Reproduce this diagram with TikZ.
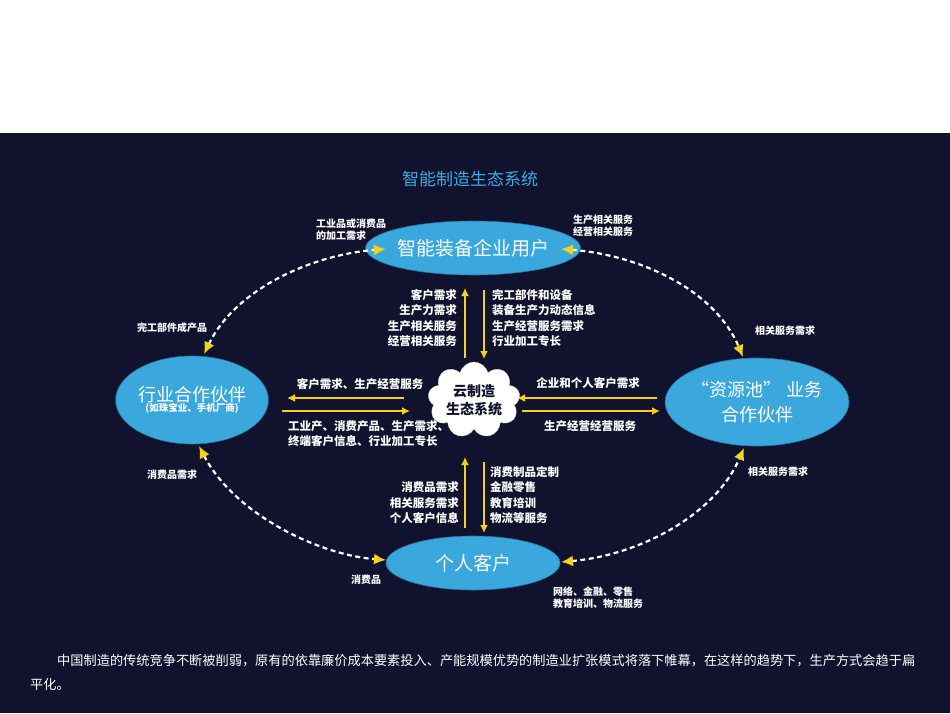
\documentclass[tikz,border=0pt]{standalone}
\usepackage{fontspec}
\setmainfont{Noto Sans CJK SC}
\usetikzlibrary{shapes.geometric,shapes.symbols,arrows.meta}
\definecolor{panel}{HTML}{10122E}
\definecolor{ell}{HTML}{3AA7DD}
\definecolor{arr}{HTML}{F2D21A}
\definecolor{ttl}{HTML}{3FA9E0}
\tikzset{
  ov/.style={ellipse,fill=ell,draw=ell!70!black,line width=0.6pt,text=white,align=center,inner sep=0pt},
  lbl/.style={text=white,font=\fontsize{10}{12}\selectfont\bfseries,inner sep=0pt},
  dsh/.style={draw=white,line width=2.2pt,dash pattern=on 5pt off 3.5pt,{Latex[length=12pt,width=11pt,fill=arr,color=arr]}-{Latex[length=12pt,width=11pt,fill=arr,color=arr]}},
  ya/.style={draw=arr,line width=2pt,-{Latex[length=8pt,width=8pt]}}
}
\begin{document}
\begin{tikzpicture}[x=1pt,y=-1pt]
\useasboundingbox (0,0) rectangle (950,713);
\fill[white] (0,0) rectangle (950,713);
\fill[panel] (0,133) rectangle (950,713);
\node[text=ttl,font=\fontsize{17}{20}\selectfont] (title) at (470,179) {智能制造生态系统};
% ellipses
\node[ov,minimum width=174,minimum height=54,font=\fontsize{19}{20}\selectfont] (top) at (473,248) {智能装备企业用户};
\node[ov,minimum width=144,minimum height=88] (left) at (192,400) {{\fontsize{18}{23}\selectfont 行业合作伙伴}\\[-2pt]{\fontsize{9.5}{11}\selectfont\bfseries (如珠宝业、手机厂商)}};
\node[ov,minimum width=144,minimum height=88,font=\fontsize{18}{25}\selectfont] (right) at (757,402) {“资源池” 业务\\合作伙伴};
\node[ov,minimum width=174,minimum height=54,font=\fontsize{19}{20}\selectfont] (bot) at (473,563) {个人客户};
\node[cloud,cloud puffs=9,aspect=1.35,fill=white,draw=white!80!black,minimum width=92,minimum height=70,align=center,font=\fontsize{14}{18}\selectfont\bfseries,text=panel,inner sep=0pt] (cloud) at (474,400) {云制造\\生态系统};
% dashed arcs
\coordinate (tl) at (386,249); \coordinate (lt) at (204,354);
\coordinate (tr) at (561,249); \coordinate (rt) at (743,357);
\coordinate (lb) at (199,446); \coordinate (bl) at (386,560);
\coordinate (rb) at (744,448); \coordinate (br) at (561,562);
\draw[dsh] (lt) .. controls (235,290) and (310,255) .. (tl);
\draw[dsh] (tr) .. controls (640,255) and (715,290) .. (rt);
\draw[dsh] (lb) .. controls (235,515) and (320,555) .. (bl);
\draw[dsh] (br) .. controls (640,555) and (715,515) .. (rb);
% vertical arrows
\coordinate (u1a) at (465,358); \coordinate (u1b) at (465,288);
\coordinate (d1a) at (484,290); \coordinate (d1b) at (484,359);
\coordinate (u2a) at (465,528); \coordinate (u2b) at (465,457);
\coordinate (d2a) at (484,462); \coordinate (d2b) at (484,533);
\draw[ya] (u1a) -- (u1b); \draw[ya] (d1a) -- (d1b);
\draw[ya] (u2a) -- (u2b); \draw[ya] (d2a) -- (d2b);
% horizontal arrows
\coordinate (h1a) at (404,398); \coordinate (h1b) at (287,398);
\coordinate (h2a) at (282,411); \coordinate (h2b) at (410,411);
\coordinate (h3a) at (657,398); \coordinate (h3b) at (517,398);
\coordinate (h4a) at (522,411); \coordinate (h4b) at (660,411);
\draw[ya] (h1a) -- (h1b); \draw[ya] (h2a) -- (h2b);
\draw[ya] (h3a) -- (h3b); \draw[ya] (h4a) -- (h4b);
% labels
\node[lbl,align=left,anchor=west] (l1) at (316,230) {工业品或消费品\\的加工需求};
\node[lbl,align=left,anchor=west] (l2) at (573,226) {生产相关服务\\经营相关服务};
\node[lbl,align=right,anchor=east,font=\fontsize{11.5}{15.5}\selectfont\bfseries] (l3) at (457,318) {客户需求\\生产力需求\\生产相关服务\\经营相关服务};
\node[lbl,align=left,anchor=west,font=\fontsize{11.5}{15.5}\selectfont\bfseries] (l4) at (492,318) {完工部件和设备\\装备生产力动态信息\\生产经营服务需求\\行业加工专长};
\node[lbl] (l5) at (172,328) {完工部件成产品};
\node[lbl] (l6) at (785,331) {相关服务需求};
\node[lbl] (l7) at (778,472) {相关服务需求};
\node[lbl] (l8) at (172,475) {消费品需求};
\node[lbl,font=\fontsize{11.5}{13}\selectfont\bfseries] (l9) at (360,384) {客户需求、生产经营服务};
\node[lbl,align=left,anchor=west,font=\fontsize{11.5}{15}\selectfont\bfseries] (l10) at (288,434) {工业产、消费产品、生产需求、\\终端客户信息、行业加工专长};
\node[lbl,font=\fontsize{11.5}{13}\selectfont\bfseries] (l11) at (588,383) {企业和个人客户需求};
\node[lbl,font=\fontsize{11.5}{13}\selectfont\bfseries] (l12) at (590,426) {生产经营经营服务};
\node[lbl,align=right,anchor=east,font=\fontsize{11.5}{15.5}\selectfont\bfseries] (l13) at (459,503) {消费品需求\\相关服务需求\\个人客户信息};
\node[lbl,align=left,anchor=west,font=\fontsize{11.5}{15.5}\selectfont\bfseries] (l14) at (490,495) {消费制品定制\\金融零售\\教育培训\\物流等服务};
\node[lbl] (l15) at (366,580) {消费品};
\node[lbl,align=left,anchor=west] (l16) at (553,598) {网络、金融、零售\\教育培训、物流服务};
\node[text=white,font=\fontsize{13.2}{24}\selectfont,anchor=north west,inner sep=0pt,align=left] (para) at (30,654) {\hspace*{27pt}中国制造的传统竞争不断被削弱，原有的依靠廉价成本要素投入、产能规模优势的制造业扩张模式将落下帷幕，在这样的趋势下，生产方式会趋于扁\\平化。};
\end{tikzpicture}
\end{document}
